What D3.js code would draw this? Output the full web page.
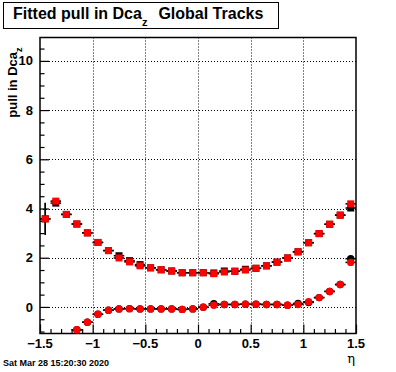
<!DOCTYPE html>
<html>
<head>
<meta charset="utf-8">
<script src="https://cdn.jsdelivr.net/npm/d3@7.9.0/dist/d3.min.js"></script>
<style>
  body { margin: 0; background: #fff; }
  svg { display: block; font-family: "Liberation Sans", Arial, Helvetica, sans-serif; }
</style>
</head>
<body>
<svg id="chart" width="396" height="372"></svg>
<script>
// bin centres in eta
const eta = [-1.45, -1.35, -1.25, -1.15, -1.05, -0.95, -0.85, -0.75, -0.65, -0.55,
             -0.45, -0.35, -0.25, -0.15, -0.05, 0.05, 0.15, 0.25, 0.35, 0.45,
             0.55, 0.65, 0.75, 0.85, 0.95, 1.05, 1.15, 1.25, 1.35, 1.45];

// fitted sigma of the pull (red squares)
const sigmaRed = [3.58, 4.30, 3.76, 3.37, 3.01, 2.62, 2.29, 1.99, 1.83, 1.67,
                  1.59, 1.51, 1.46, 1.39, 1.39, 1.39, 1.35, 1.42, 1.45, 1.50,
                  1.57, 1.67, 1.82, 1.99, 2.24, 2.61, 2.98, 3.36, 3.73, 4.19];
// fitted mean of the pull (red circles), null = off scale
const meanRed = [null, null, null, -0.93, -0.62, -0.30, -0.13, -0.08, -0.07, -0.08,
                 -0.08, -0.08, -0.08, -0.10, -0.08, -0.01, 0.07, 0.10, 0.10, 0.11,
                 0.11, 0.10, 0.10, 0.07, 0.10, 0.21, 0.38, 0.63, 0.91, 1.81];

// the black histograms underneath
const sigmaBlack = [3.58, 4.22, 3.76, 3.37, 3.01, 2.62, 2.29, 2.08, 1.88, 1.72,
                    1.59, 1.51, 1.46, 1.39, 1.39, 1.39, 1.38, 1.46, 1.45, 1.53,
                    1.57, 1.67, 1.82, 1.99, 2.24, 2.61, 2.98, 3.36, 3.73, 4.02];
const meanBlack = [null, null, null, -0.93, -0.62, -0.30, -0.13, -0.08, -0.07, -0.08,
                   -0.08, -0.08, -0.08, -0.10, -0.08, -0.01, 0.13, 0.10, 0.10, 0.11,
                   0.11, 0.10, 0.10, 0.07, 0.14, 0.18, 0.38, 0.63, 0.91, 1.96];
const sigmaErr = [0.65, 0.04, 0.04, 0.04, 0.04, 0.04, 0.04, 0.04, 0.04, 0.04,
                  0.04, 0.04, 0.04, 0.04, 0.04, 0.04, 0.04, 0.04, 0.04, 0.04,
                  0.04, 0.04, 0.04, 0.04, 0.04, 0.04, 0.04, 0.04, 0.04, 0.04];
const binHalf = 0.05;

const xTicks = [-1.5, -1, -0.5, 0, 0.5, 1, 1.5];
const yTicks = [0, 2, 4, 6, 8, 10];

const svg = d3.select('#chart');
const frame = { left: 40, right: 356, top: 37.5, bottom: 333.5 };

const x = d3.scaleLinear().domain([-1.5, 1.5]).range([frame.left, frame.right]);
const y = d3.scaleLinear().domain([-1.08, 10.95]).range([frame.bottom, frame.top]);

// grid
const grid = svg.append('g').attr('stroke', '#000').attr('stroke-width', 1)
  .attr('stroke-dasharray', '1,2');
grid.selectAll('.gx').data(xTicks.filter(d => d > -1.5 && d < 1.5)).join('line')
  .attr('x1', d => Math.round(x(d)) + 0.5).attr('x2', d => Math.round(x(d)) + 0.5)
  .attr('y1', frame.top).attr('y2', frame.bottom);
grid.selectAll('.gy').data(yTicks).join('line')
  .attr('y1', d => Math.round(y(d)) + 0.5).attr('y2', d => Math.round(y(d)) + 0.5)
  .attr('x1', frame.left).attr('x2', frame.right);

// frame
svg.append('rect')
  .attr('x', frame.left).attr('y', frame.top)
  .attr('width', frame.right - frame.left).attr('height', frame.bottom - frame.top)
  .attr('fill', 'none').attr('stroke', '#000').attr('stroke-width', 1.5);

// x axis, ticks inside
const xAxis = svg.append('g').attr('transform', `translate(0,${frame.bottom})`)
  .call(d3.axisBottom(x).tickValues(d3.range(-15, 16).map(d => d / 10))
    .tickSize(-4.5).tickFormat(''));
xAxis.select('.domain').remove();
xAxis.selectAll('line').attr('stroke-width', 1.2);
xAxis.selectAll('.tick').filter(d => xTicks.some(t => Math.abs(t - d) < 1e-6))
  .select('line').attr('y2', -9);
svg.append('g').selectAll('text').data(xTicks).join('text')
  .attr('x', d => x(d)).attr('y', 347.5)
  .attr('text-anchor', 'middle').attr('font-size', 13).attr('font-weight', 'bold')
  .text(d => d < 0 ? '\u2212' + Math.abs(d) : d);

// y axis, ticks inside
const yAxis = svg.append('g').attr('transform', `translate(${frame.left},0)`)
  .call(d3.axisLeft(y).tickValues(d3.range(-2, 22).map(d => d / 2).filter(d => d >= -1.08 && d <= 10.95))
    .tickSize(-4.5).tickFormat(''));
yAxis.select('.domain').remove();
yAxis.selectAll('line').attr('stroke-width', 1.2);
yAxis.selectAll('.tick').filter(d => yTicks.includes(d)).select('line').attr('x2', 9);
svg.append('g').selectAll('text').data(yTicks).join('text')
  .attr('x', 33).attr('y', d => y(d) + 4.6)
  .attr('text-anchor', 'end').attr('font-size', 13).attr('font-weight', 'bold')
  .text(d => d);

// histograms
const plot = svg.append('g');
function drawSeries(vals, errs, color, shape) {
  const pts = eta.map((e, i) => ({ e, v: vals[i], err: errs ? errs[i] : 0.04 }))
    .filter(d => d.v !== null && d.v >= y.domain()[0] && d.v <= y.domain()[1]);
  const g = plot.append('g');
  g.selectAll('.h').data(pts).join('line')
    .attr('x1', d => x(d.e - binHalf)).attr('x2', d => x(d.e + binHalf))
    .attr('y1', d => y(d.v)).attr('y2', d => y(d.v))
    .attr('stroke', '#000').attr('stroke-width', 1.5);
  g.selectAll('.v').data(pts).join('line')
    .attr('x1', d => x(d.e)).attr('x2', d => x(d.e))
    .attr('y1', d => y(d.v - d.err)).attr('y2', d => y(d.v + d.err))
    .attr('stroke', '#000').attr('stroke-width', 1.5);
  if (shape === 'square') {
    g.selectAll('rect').data(pts).join('rect')
      .attr('x', d => x(d.e) - 3.5).attr('y', d => y(d.v) - 3.5)
      .attr('width', 7).attr('height', 7).attr('fill', color);
  } else {
    g.selectAll('circle').data(pts).join('circle')
      .attr('cx', d => x(d.e)).attr('cy', d => y(d.v)).attr('r', 3.7)
      .attr('fill', color);
  }
}
drawSeries(sigmaBlack, sigmaErr, '#000', 'square');
drawSeries(meanBlack, null, '#000', 'circle');
drawSeries(sigmaRed, sigmaErr, '#ff0000', 'square');
drawSeries(meanRed, null, '#ff0000', 'circle');

// title box
svg.append('rect').attr('x', 3.5).attr('y', 2.5).attr('width', 275).attr('height', 26)
  .attr('fill', '#fff').attr('stroke', '#000').attr('stroke-width', 1);
const title = svg.append('text').attr('x', 13).attr('y', 19)
  .attr('font-size', 16).attr('font-weight', 'bold');
title.append('tspan').text('Fitted pull in Dca');
title.append('tspan').attr('dy', 7).attr('font-size', 11).text('z');
title.append('tspan').attr('dy', -7).attr('dx', 11).text('Global Tracks');

// y label
const ylab = svg.append('text')
  .attr('transform', `translate(17,${frame.top + 10}) rotate(-90)`)
  .attr('text-anchor', 'end').attr('font-size', 13).attr('font-weight', 'bold');
ylab.append('tspan').text('pull in Dca');
ylab.append('tspan').attr('dy', 5).attr('font-size', 9).text('z');

// x label
svg.append('text').attr('x', 355).attr('y', 363).attr('text-anchor', 'end')
  .attr('font-size', 13).attr('font-family', '"DejaVu Serif", serif').text('\u03b7');

// date stamp
svg.append('text').attr('x', 3).attr('y', 366).attr('font-size', 9)
  .attr('font-weight', 'bold').text('Sat Mar 28 15:20:30 2020');
</script>
</body>
</html>
